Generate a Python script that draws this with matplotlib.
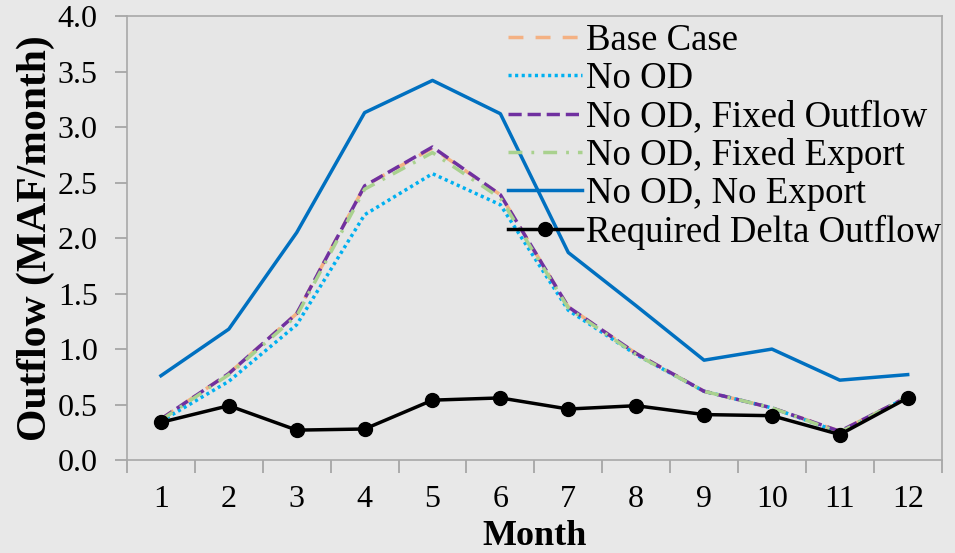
import numpy as np
import matplotlib.pyplot as plt

plt.rcParams['font.family'] = ['Liberation Serif', 'DejaVu Serif']

months = [1, 2, 3, 4, 5, 6, 7, 8, 9, 10, 11, 12]

base_case = [0.37, 0.78, 1.32, 2.47, 2.81, 2.39, 1.38, 0.96, 0.62, 0.47, 0.26, 0.57]
no_od = [0.35, 0.71, 1.22, 2.21, 2.58, 2.30, 1.35, 0.95, 0.62, 0.47, 0.25, 0.57]
no_od_fixed_outflow = [0.37, 0.78, 1.32, 2.47, 2.82, 2.39, 1.38, 0.96, 0.62, 0.47, 0.26, 0.57]
no_od_fixed_export = [0.36, 0.77, 1.30, 2.44, 2.77, 2.36, 1.37, 0.95, 0.62, 0.47, 0.25, 0.57]
no_od_no_export = [0.76, 1.18, 2.05, 3.13, 3.42, 3.12, 1.87, 1.39, 0.90, 1.00, 0.72, 0.77]
required = [0.34, 0.49, 0.27, 0.28, 0.54, 0.56, 0.46, 0.49, 0.41, 0.40, 0.23, 0.56]

bg = '#e8e8e8'
fig = plt.figure(figsize=(9.55, 5.53), dpi=100, facecolor=bg)
ax = fig.add_axes([0.133, 0.168, 0.853, 0.803], facecolor='#e6e6e6')

ax.plot(months, base_case, color='#F4B183', lw=2.5, ls=(0, (4.3, 3.5)), label='Base Case')
ax.plot(months, no_od, color='#00B0F0', lw=2.5, ls=(0, (0.9, 1.0)), label='No OD')
ax.plot(months, no_od_fixed_outflow, color='#7030A0', lw=2.5, ls=(0, (3.8, 1.7)), label='No OD, Fixed Outflow')
ax.plot(months, no_od_fixed_export, color='#A9D18E', lw=2.5, ls=(0, (4, 2.6, 0.8, 2.6)), label='No OD, Fixed Export')
ax.plot(months, no_od_no_export, color='#0070C0', lw=2.5, label='No OD, No Export')
ax.plot(months, required, color='black', lw=2.5, marker='o', ms=10, label='Required Delta Outflow')

ax.set_xlim(0.5, 12.5)
ax.set_ylim(0, 4)
ax.set_yticks(np.arange(0, 4.01, 0.5))
ax.set_yticklabels(['%.1f' % v for v in np.arange(0, 4.01, 0.5)])
ax.set_xticks(months)
ax.set_xticks(np.arange(0.5, 12.6, 1), minor=True)
ax.tick_params(axis='x', which='major', length=0, pad=18, labelsize=23)
ax.tick_params(axis='x', which='minor', length=9, color='#a0a0a0', width=1.2, direction='out')
ax.tick_params(axis='y', length=9, color='#a0a0a0', width=1.2, direction='out', labelsize=23, pad=12)

for s in ax.spines.values():
    s.set_color('#a8a8a8')
    s.set_linewidth(1.2)

ax.set_xlabel('Month', fontsize=26, fontweight='bold', labelpad=4)
ax.set_ylabel('Outflow (MAF/month)', fontsize=30, fontweight='bold', labelpad=2)

ax.legend(loc='upper right', bbox_to_anchor=(1.0, 0.983), frameon=False, fontsize=26.5,
          handlelength=2.0, handletextpad=0.12, labelspacing=0.1, borderaxespad=0, borderpad=0)

fig.savefig('out.png', dpi=100, facecolor=bg)
